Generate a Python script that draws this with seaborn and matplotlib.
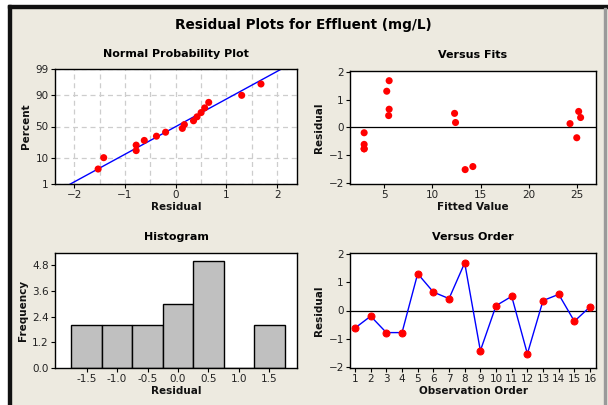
import math
import numpy as np
import matplotlib
matplotlib.use("Agg")
import matplotlib.pyplot as plt
import seaborn as sns
from matplotlib.patches import Rectangle
from matplotlib.ticker import MultipleLocator

# =====================
# data
# =====================
order = list(range(1, 17))
residuals = [-0.62, -0.20, -0.78, -0.78, 1.30, 0.65, 0.42, 1.68,
             -1.42, 0.17, 0.50, -1.53, 0.35, 0.57, -0.38, 0.13]
fitted = [2.9, 2.9, 2.9, 2.9, 5.25, 5.5, 5.45, 5.5,
          14.2, 12.4, 12.3, 13.4, 25.4, 25.2, 25.0, 24.3]

pct_ticks = [1, 10, 50, 90, 99]
hist_edges = [-1.75, -1.25, -0.75, -0.25, 0.25, 0.75, 1.25, 1.75]
hist_ticks = [-1.5, -1.0, -0.5, 0.0, 0.5, 1.0, 1.5]
freq_ticks = [0.0, 1.2, 2.4, 3.6, 4.8]

BG = "#EDEAE0"
W, H = 608, 405


def norm_ppf(p):
    lo, hi = -10.0, 10.0
    for _ in range(80):
        mid = (lo + hi) / 2
        if 0.5 * (1 + math.erf(mid / math.sqrt(2))) < p:
            lo = mid
        else:
            hi = mid
    return (lo + hi) / 2


def px_axes(fig, left, top, right, bottom):
    return fig.add_axes([left / W, 1 - bottom / H, (right - left) / W, (bottom - top) / H])


def style_axes(ax, title, xlabel, ylabel):
    ax.set_facecolor("white")
    for s in ax.spines.values():
        s.set_color("black")
        s.set_linewidth(1)
        s.set_visible(True)
    ax.tick_params(direction="out", length=3, width=0.8, color="black",
                   labelsize=7.5, labelcolor="#222222", pad=1.5)
    ax.set_title(title, fontsize=8, fontweight="bold", pad=9, color="black")
    ax.set_xlabel(xlabel, fontsize=7.5, fontweight="bold", labelpad=1, color="#111111")
    ax.set_ylabel(ylabel, fontsize=7.5, fontweight="bold", labelpad=3, color="#111111")


sns.set_style("ticks")
plt.rcParams["font.family"] = ["DejaVu Sans"]

fig = plt.figure(figsize=(W / 100, H / 100), dpi=100, facecolor=BG)

# frame like the screenshot
fig.patches.append(Rectangle((0, 1 - 5 / H), 1, 5 / H, transform=fig.transFigure, color="white", zorder=0))
fig.patches.append(Rectangle((0, 0), 8 / W, 1, transform=fig.transFigure, color="white", zorder=0))
fig.patches.append(Rectangle((8 / W, 1 - 8 / H), 1, 3 / H, transform=fig.transFigure, color="#111111", zorder=1))
fig.patches.append(Rectangle((8 / W, 0), 3 / W, 1 - 5 / H, transform=fig.transFigure, color="#111111", zorder=1))
fig.patches.append(Rectangle((1 - 4 / W, 0), 2 / W, 1 - 8 / H, transform=fig.transFigure, color="#9A9A9A", zorder=1))

fig.text(303 / W, 1 - 25 / H, "Residual Plots for Effluent (mg/L)", ha="center", va="center",
         fontsize=9.8, fontweight="bold", color="black")

# =====================
# Normal probability plot
# =====================
ax1 = px_axes(fig, 55, 69, 297, 184)
res_sorted = np.sort(residuals)
n = len(res_sorted)
z_pos = [norm_ppf((i - 0.3) / (n + 0.4)) for i in range(1, n + 1)]
mu, sd = np.mean(residuals), np.std(residuals, ddof=1)
z_lo, z_hi = norm_ppf(0.01), norm_ppf(0.99)
line_z = [z_lo - 0.2, z_hi + 0.2]
line_x = [mu + sd * z for z in line_z]

sns.lineplot(x=line_x, y=line_z, color="blue", linewidth=1, ax=ax1, zorder=2)
sns.scatterplot(x=res_sorted, y=z_pos, color="red", s=26, edgecolor="none", ax=ax1, zorder=3)
ax1.set_xlim(-2.38, 2.39)
ax1.set_ylim(z_lo, z_hi)
ax1.set_xticks([-2, -1, 0, 1, 2])
ax1.xaxis.set_minor_locator(MultipleLocator(0.5))
ax1.tick_params(axis="x", which="minor", length=0)
ax1.set_yticks([norm_ppf(p / 100) for p in pct_ticks])
ax1.set_yticklabels([str(p) for p in pct_ticks])
ax1.grid(True, which="both", color="#CDCDCD", linestyle=(0, (4, 3)), linewidth=0.9)
ax1.set_axisbelow(True)
style_axes(ax1, "Normal Probability Plot", "Residual", "Percent")

# =====================
# Versus fits
# =====================
ax2 = px_axes(fig, 350, 71, 596, 184)
ax2.axhline(0, color="black", linewidth=0.9, zorder=1)
sns.scatterplot(x=fitted, y=residuals, color="red", s=26, edgecolor="none", ax=ax2, zorder=3)
ax2.set_xlim(1.43, 27.0)
ax2.set_ylim(-2.05, 2.03)
ax2.set_xticks([5, 10, 15, 20, 25])
ax2.set_yticks([-2, -1, 0, 1, 2])
style_axes(ax2, "Versus Fits", "Fitted Value", "Residual")

# =====================
# Histogram
# =====================
ax3 = px_axes(fig, 55, 253, 297, 368)
sns.histplot(x=residuals, bins=hist_edges, color="#C0C0C0", edgecolor="black",
             linewidth=1, alpha=1, ax=ax3)
ax3.set_xlim(-2.02, 1.955)
ax3.set_ylim(0, 5.36)
ax3.set_xticks(hist_ticks)
ax3.set_xticklabels([f"{t:.1f}" for t in hist_ticks])
ax3.set_yticks(freq_ticks)
ax3.set_yticklabels([f"{t:.1f}" for t in freq_ticks])
style_axes(ax3, "Histogram", "Residual", "Frequency")

# =====================
# Versus order
# =====================
ax4 = px_axes(fig, 350, 253, 596, 368)
ax4.axhline(0, color="black", linewidth=0.9, zorder=1)
sns.lineplot(x=order, y=residuals, color="blue", linewidth=1, marker="o", markersize=5,
             markerfacecolor="red", markeredgecolor="red", ax=ax4, zorder=3)
ax4.set_xlim(0.68, 16.38)
ax4.set_ylim(-2.03, 2.03)
ax4.set_xticks(order)
ax4.set_yticks([-2, -1, 0, 1, 2])
style_axes(ax4, "Versus Order", "Observation Order", "Residual")

fig.savefig("out.png", dpi=100, facecolor=BG)
